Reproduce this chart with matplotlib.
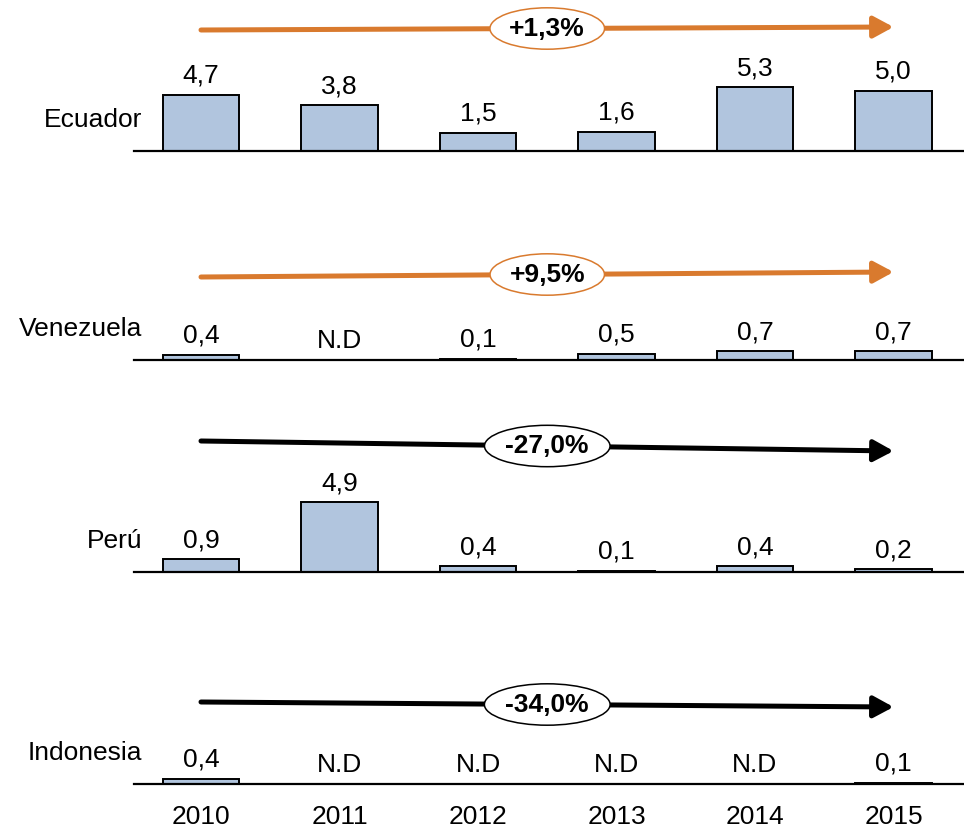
import matplotlib
matplotlib.use("Agg")
import matplotlib.pyplot as plt
from matplotlib.patches import FancyArrowPatch
from matplotlib.transforms import blended_transform_factory
import numpy as np

plt.rcParams['font.family'] = ['Liberation Sans', 'DejaVu Sans']

years = ['2010', '2011', '2012', '2013', '2014', '2015']
countries = ['Ecuador', 'Venezuela', 'Perú', 'Indonesia']
ecuador = [4.7, 3.8, 1.5, 1.6, 5.3, 5.0]
venezuela = [0.4, None, 0.1, 0.5, 0.7, 0.7]
peru = [0.9, 4.9, 0.4, 0.1, 0.4, 0.2]
indonesia = [0.4, None, None, None, None, 0.1]
growth = [1.3, 9.5, -27.0, -34.0]  # % change 2010-2015

# layout in pixels, figure is 964x830 at dpi 100
W, H = 964, 830
baselines = [151, 360, 572, 784]
px_per_unit = [12, 12.5, 14.2, 13]
arrow_y = [(121, 124), (83, 88), (131, 121), (82, 77)]  # start/end, px above baseline
panel_h = 140
x_left, x_right = 134, 964
first_bar, step = 201, 138.5

BAR = '#B1C5DE'
ORANGE = '#D97A2E'
FS = 19


def fmt(v):
    return 'N.D' if v is None else f'{v:.1f}'.replace('.', ',')


fig = plt.figure(figsize=(W / 100, H / 100), dpi=100)
x = np.arange(len(years))
xlim = ((x_left - first_bar) / step, (x_right - first_bar) / step)

for i, (name, vals) in enumerate(zip(countries, [ecuador, venezuela, peru, indonesia])):
    ax = fig.add_axes([x_left / W, (H - baselines[i]) / H, (x_right - x_left) / W, panel_h / H])
    ax.set_xlim(*xlim)
    ax.set_ylim(0, panel_h / px_per_unit[i])
    for s in ['top', 'left', 'right']:
        ax.spines[s].set_visible(False)
    ax.spines['bottom'].set_linewidth(1.6)
    ax.set_yticks([])

    known = [j for j, v in enumerate(vals) if v is not None]
    ax.bar([x[j] for j in known], [vals[j] for j in known], width=0.55,
           color=BAR, edgecolor='black', linewidth=1.4)
    for j, v in enumerate(vals):
        ax.annotate(fmt(v), (x[j], v or 0), xytext=(0, 12), textcoords='offset pixels',
                    ha='center', va='baseline', fontsize=FS)

    ax.annotate(name, xy=(0, 0), xycoords='axes fraction', xytext=(8, 31),
                textcoords='offset pixels', ha='right', va='center', fontsize=FS)

    # trend arrow with growth rate in an ellipse
    c = ORANGE if growth[i] > 0 else 'black'
    tr = blended_transform_factory(ax.transData, ax.transAxes)
    ya, yb = arrow_y[i][0] / panel_h, arrow_y[i][1] / panel_h
    arr = FancyArrowPatch((x[0], ya), (x[-1], yb), transform=tr,
                          arrowstyle='-|>,head_length=12,head_width=6.5', mutation_scale=1,
                          lw=3.6, color=c, capstyle='round', shrinkA=0, shrinkB=0, clip_on=False)
    ax.add_patch(arr)
    label = f'{growth[i]:+.1f}%'.replace('.', ',')
    ax.text((x[0] + x[-1]) / 2, (ya + yb) / 2, label, transform=tr, ha='center', va='center',
            fontsize=FS, fontweight='bold', zorder=5, clip_on=False,
            bbox=dict(boxstyle='ellipse,pad=0.1', fc='white', ec=c, lw=1.1))

    if i == len(countries) - 1:
        ax.set_xticks(x, years)
        ax.tick_params(axis='x', length=0, pad=15, labelsize=FS)
    else:
        ax.set_xticks([])

fig.savefig('out.png', dpi=100)
